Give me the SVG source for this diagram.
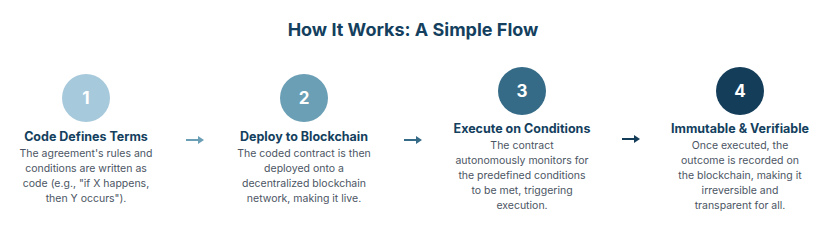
<svg xmlns="http://www.w3.org/2000/svg" width="829" height="229" viewBox="0 0 829 229">
<style>
.title{font-family:Inter,"Liberation Sans",sans-serif;font-weight:700;font-size:18px;fill:#143f5e;text-anchor:middle}
.num{font-family:Inter,"Liberation Sans",sans-serif;font-weight:700;font-size:17px;fill:#ffffff;text-anchor:middle}
.head{font-family:Inter,"Liberation Sans",sans-serif;font-weight:700;font-size:12.5px;fill:#143f5e;text-anchor:middle}
.body{font-family:Inter,"Liberation Sans",sans-serif;font-size:10.5px;fill:#4b5563;text-anchor:middle}
.arr{stroke-width:2;fill:none}
</style>
<rect width="829" height="229" fill="#ffffff"/>
<text class="title" x="413" y="36">How It Works: A Simple Flow</text>
<g id="connectors">
<g fill="#6a9fb5" stroke="#6a9fb5"><line class="arr" x1="186" y1="140" x2="199" y2="140"/><polygon points="198,136 204,140 198,144" stroke="none"/></g>
<g fill="#356b87" stroke="#356b87"><line class="arr" x1="404" y1="140" x2="417" y2="140"/><polygon points="416,136 422,140 416,144" stroke="none"/></g>
<g fill="#143d5a" stroke="#143d5a"><line class="arr" x1="622" y1="139" x2="635" y2="139"/><polygon points="634,135 640,139 634,143" stroke="none"/></g>
</g>
<g id="step1">
<circle cx="86" cy="98" r="24" fill="#a7c9dc"/>
<text class="num" x="86" y="104">1</text>
<text class="head" x="86" y="141">Code Defines Terms</text>
<text class="body" x="86" y="157">The agreement's rules and</text>
<text class="body" x="86" y="172">conditions are written as</text>
<text class="body" x="86" y="187">code (e.g., "if X happens,</text>
<text class="body" x="86" y="202">then Y occurs").</text>
</g>
<g id="step2">
<circle cx="304" cy="98" r="24" fill="#6a9fb5"/>
<text class="num" x="304" y="104">2</text>
<text class="head" x="304" y="141">Deploy to Blockchain</text>
<text class="body" x="304" y="157">The coded contract is then</text>
<text class="body" x="304" y="172">deployed onto a</text>
<text class="body" x="304" y="187">decentralized blockchain</text>
<text class="body" x="304" y="202">network, making it live.</text>
</g>
<g id="step3">
<circle cx="522" cy="91" r="24" fill="#356b87"/>
<text class="num" x="522" y="97">3</text>
<text class="head" x="522" y="133">Execute on Conditions</text>
<text class="body" x="522" y="149">The contract</text>
<text class="body" x="522" y="164">autonomously monitors for</text>
<text class="body" x="522" y="179">the predefined conditions</text>
<text class="body" x="522" y="194">to be met, triggering</text>
<text class="body" x="522" y="209">execution.</text>
</g>
<g id="step4">
<circle cx="740" cy="91" r="24" fill="#143d5a"/>
<text class="num" x="740" y="97">4</text>
<text class="head" x="740" y="133">Immutable &amp; Verifiable</text>
<text class="body" x="740" y="149">Once executed, the</text>
<text class="body" x="740" y="164">outcome is recorded on</text>
<text class="body" x="740" y="179">the blockchain, making it</text>
<text class="body" x="740" y="194">irreversible and</text>
<text class="body" x="740" y="209">transparent for all.</text>
</g>
</svg>
